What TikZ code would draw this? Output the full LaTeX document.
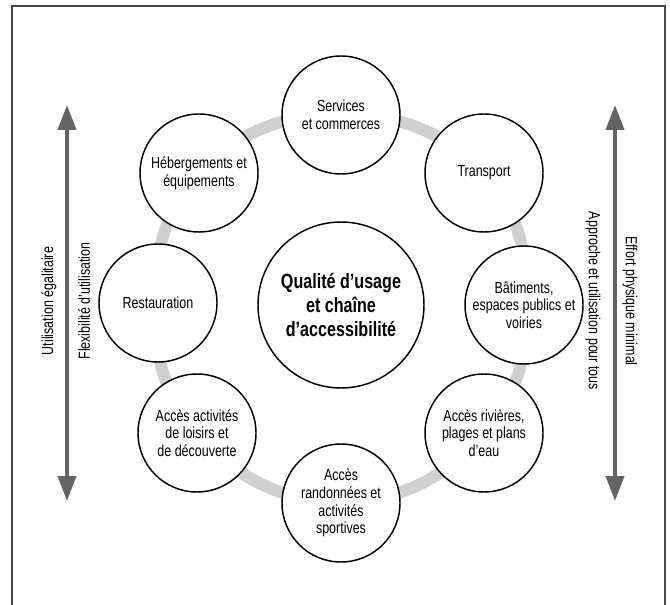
\documentclass[tikz,border=0pt]{standalone}
\usepackage{fontspec}
\setmainfont{Liberation Sans}[FakeStretch=0.78]
\usepackage{tikz}
\usetikzlibrary{arrows.meta}
\usetikzlibrary{backgrounds}

\definecolor{ringgray}{RGB}{208,208,208}
\definecolor{axisgray}{RGB}{100,100,100}
\definecolor{framegray}{RGB}{70,70,70}

\begin{document}
\begin{tikzpicture}[x=0.75pt,y=-0.75pt,
    topic/.style={draw,circle,line width=1.1pt,fill=white,minimum size=88.5pt,inner sep=0pt,align=center,font=\fontsize{12}{13.3}\selectfont},
    core/.style={draw,circle,line width=1.1pt,fill=white,minimum size=124.5pt,inner sep=0pt,align=center,font=\fontsize{15.5}{18}\selectfont\bfseries},
    ring/.style={line width=9pt,ringgray},
    axis/.style={line width=3pt,axisgray,{Triangle[length=18.75pt,width=13.5pt]}-{Triangle[length=18.75pt,width=13.5pt]}},
    side/.style={font=\fontsize{12}{13.3}\selectfont}]
    \useasboundingbox (0,0) rectangle (670,605);
    \draw[framegray,line width=1.1pt] (12,605) -- (12,6) -- (665,6) -- (665,605);

    \node[core] (Qual) at (341,305) {Qualité d’usage\\et chaîne\\d’accessibilité};
    \node[topic] (Serv) at (341,115) {Services\\et commerces};
    \node[topic] (Trans) at (484,173) {Transport};
    \node[topic] (Bat) at (524,305) {Bâtiments,\\espaces publics et\\voiries};
    \node[topic] (Riv) at (484,433) {Accès rivières,\\plages et plans\\d’eau};
    \node[topic] (Rand) at (341,503) {Accès\\randonnées et\\activités\\sportives};
    \node[topic] (Act) at (197,433) {Accès activités\\de loisirs et\\de découverte};
    \node[topic] (Rest) at (158,303) {Restauration};
    \node[topic] (Heb) at (199,173) {Hébergements et\\équipements};

    % ring behind the circles
    \begin{scope}[on background layer]
      \foreach \a/\b in {Serv/Trans,Trans/Bat,Bat/Riv,Riv/Rand,Rand/Act,Act/Rest,Rest/Heb,Heb/Serv}
        \draw[ring] (\a.center) to[bend left=22.5] (\b.center);
    \end{scope}

    % side axes
    \coordinate (LTop) at (67,105);
    \coordinate (LBot) at (67,501);
    \coordinate (RTop) at (615,105);
    \coordinate (RBot) at (615,501);
    \draw[axis] (LTop) -- (LBot);
    \draw[axis] (RTop) -- (RBot);
    \node[side,rotate=90] (UtilEg) at (49,301) {Utilisation égalitaire};
    \node[side,rotate=90] (Flex) at (84,301) {Flexibilité d’utilisation};
    \node[side,rotate=-90] (Appr) at (593,301) {Approche et utilisation pour tous};
    \node[side,rotate=-90] (Effort) at (630,301) {Effort physique minimal};
  \end{tikzpicture}
\end{document}
